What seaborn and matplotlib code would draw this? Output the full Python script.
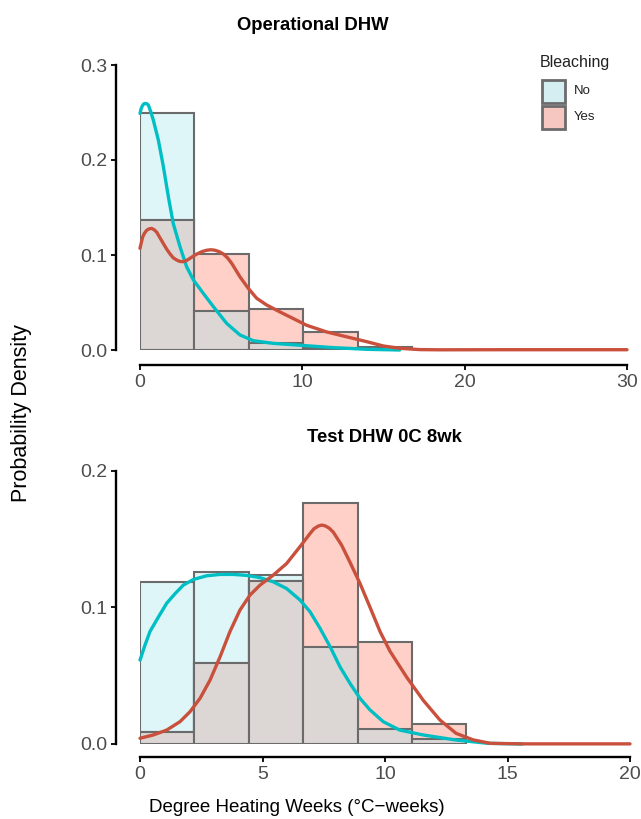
import numpy as np
import matplotlib
matplotlib.use("Agg")
import matplotlib.pyplot as plt
import seaborn as sns
from matplotlib.patches import Rectangle

# ---------------- data ----------------
groups = ["No", "Yes"]

# Panel 1: Operational DHW
top_edges = [0, 3.35, 6.70, 10.05, 13.40, 16.75]
top_no = [0.250, 0.041, 0.007, 0.0025, 0.0]
top_yes = [0.137, 0.101, 0.043, 0.019, 0.0035]

top_no_kde_x = [0, 0.07, 0.144, 0.23, 0.31, 0.41, 0.51, 0.66, 0.82, 1.13, 1.44, 1.75, 2.05,
                2.46, 2.87, 3.29, 3.90, 4.52, 5.34, 6.16, 6.98, 8.2, 9.86, 11.9, 14.0, 16.0]
top_no_kde_y = [0.249, 0.254, 0.257, 0.259, 0.2596, 0.2592, 0.258, 0.251, 0.242, 0.221,
                0.193, 0.161, 0.133, 0.109, 0.0877, 0.0737, 0.0596, 0.0456, 0.028, 0.0158,
                0.0098, 0.007, 0.005, 0.0025, 0.0007, 0.0]
top_yes_kde_x = [0, 0.08, 0.164, 0.28, 0.41, 0.56, 0.72, 0.88, 1.03, 1.2, 1.44, 1.65, 1.85,
                 2.05, 2.26, 2.46, 2.67, 2.87, 3.08, 3.33, 3.59, 3.85, 4.11, 4.37, 4.62,
                 4.88, 5.13, 5.39, 5.65, 6.16, 6.67, 7.19, 7.8, 8.63, 9.45, 10.27, 11.5,
                 12.7, 13.96, 15.0, 16.0, 17.25, 18.5, 22.0, 30.0]
top_yes_kde_y = [0.107, 0.113, 0.119, 0.123, 0.126, 0.1275, 0.128, 0.1265, 0.124, 0.119,
                 0.112, 0.106, 0.1011, 0.097, 0.0947, 0.0932, 0.093, 0.0942, 0.0965, 0.0993,
                 0.1018, 0.1037, 0.105, 0.1055, 0.105, 0.1035, 0.1011, 0.097, 0.0912, 0.077,
                 0.0649, 0.0544, 0.0474, 0.040, 0.033, 0.026, 0.019, 0.014, 0.0088, 0.0042,
                 0.0018, 0.0004, 0.0002, 0.0003, 0.0003]

# Panel 2: Test DHW 0C 8wk
bot_edges = [0, 2.22, 4.44, 6.66, 8.88, 11.10, 13.32]
bot_no = [0.1185, 0.1258, 0.124, 0.0707, 0.0107, 0.0037]
bot_yes = [0.009, 0.059, 0.119, 0.176, 0.0749, 0.0144]

bot_no_kde_x = [0, 0.204, 0.41, 0.75, 1.09, 1.43, 1.77, 2.18, 2.72, 3.27, 3.81, 4.35, 4.9,
                5.44, 5.98, 6.53, 6.94, 7.35, 7.76, 8.16, 8.57, 8.98, 9.39, 9.93, 10.6,
                11.56, 12.9, 14.2, 15.6]
bot_no_kde_y = [0.0614, 0.0724, 0.0824, 0.0929, 0.103, 0.110, 0.1163, 0.1204, 0.1231,
                0.1241, 0.1241, 0.1234, 0.1217, 0.1187, 0.1138, 0.1054, 0.0968, 0.0846,
                0.0712, 0.0566, 0.0444, 0.0334, 0.0249, 0.0163, 0.0102, 0.0066, 0.0029,
                0.0005, 0.0]
bot_yes_kde_x = [0, 0.54, 1.09, 1.63, 2.04, 2.45, 2.86, 3.27, 3.67, 4.08, 4.49, 4.9, 5.44,
                 5.98, 6.53, 6.94, 7.1, 7.28, 7.42, 7.55, 7.72, 7.89, 8.23, 8.57, 8.98,
                 9.39, 9.8, 10.2, 10.88, 11.56, 12.24, 12.9, 13.6, 14.3, 15.6, 20.0]
bot_yes_kde_y = [0.0042, 0.0066, 0.0102, 0.0163, 0.0236, 0.0334, 0.0468, 0.0639, 0.0822,
                 0.098, 0.109, 0.1163, 0.1236, 0.132, 0.1444, 0.154, 0.1575, 0.1595, 0.1602,
                 0.1597, 0.158, 0.155, 0.1455, 0.133, 0.1175, 0.100, 0.0822, 0.068, 0.049,
                 0.032, 0.0176, 0.0078, 0.003, 0.0005, 0.0001, 0.0001]

titles = ["Operational DHW", "Test DHW 0C 8wk"]
top_xticks = [0, 10, 20, 30]
top_yticks = [0.0, 0.1, 0.2, 0.3]
bot_xticks = [0, 5, 10, 15, 20]
bot_yticks = [0.0, 0.1, 0.2]

# ---------------- style ----------------
sns.set_theme(style="ticks")
plt.rcParams["font.family"] = ["Liberation Sans", "DejaVu Sans"]

CYAN_FILL = "#DFF6F9"
RED_FILL = "#FFD0C8"
GRAY_FILL = "#DCD7D4"
EDGE = "#6B6B6B"
CYAN_LINE = "#00BFC4"
RED_LINE = "#C9503C"
TICK_COL = "#4D4D4D"

W, H = 641, 819
fig = plt.figure(figsize=(W / 100, H / 100), dpi=100)


def px_axes(x0, x1, y0, y1):
    return fig.add_axes([x0 / W, 1 - y1 / H, (x1 - x0) / W, (y1 - y0) / H])


def draw_panel(ax, edges, no, yes, nkx, nky, ykx, yky, xticks, yticks, yfmt, boff):
    centers = [(edges[i] + edges[i + 1]) / 2 for i in range(len(no))]
    overlap = np.minimum(no, yes)
    kw = dict(bins=edges, edgecolor=EDGE, linewidth=1.5, alpha=1, ax=ax, stat="count")
    sns.histplot(x=centers, weights=no, color=CYAN_FILL, **kw)
    sns.histplot(x=centers, weights=yes, color=RED_FILL, **kw)
    sns.histplot(x=centers, weights=overlap, color=GRAY_FILL, **kw)
    sns.lineplot(x=nkx, y=nky, color=CYAN_LINE, linewidth=2.4, ax=ax, sort=False,
                 clip_on=False)
    sns.lineplot(x=ykx, y=yky, color=RED_LINE, linewidth=2.4, ax=ax, sort=False,
                 clip_on=False)
    ax.set_xlim(xticks[0], xticks[-1])
    ax.set_ylim(yticks[0], yticks[-1])
    ax.set_xticks(xticks)
    ax.set_yticks(yticks)
    ax.set_yticklabels([yfmt.format(v) for v in yticks])
    ax.set_xlabel("")
    ax.set_ylabel("")
    for s in ["top", "right"]:
        ax.spines[s].set_visible(False)
    ax.spines["left"].set_position(("outward", 24 * 0.72))
    ax.spines["bottom"].set_position(("outward", boff * 0.72))
    for s in ["left", "bottom"]:
        ax.spines[s].set_linewidth(1.7)
        ax.spines[s].set_color("black")
    ax.tick_params(axis="both", length=3.5, width=1.3, color="black",
                   labelcolor=TICK_COL, labelsize=14, pad=3)
    ax.patch.set_alpha(0)


ax1 = px_axes(140, 627, 65, 350)
draw_panel(ax1, top_edges, top_no, top_yes, top_no_kde_x, top_no_kde_y,
           top_yes_kde_x, top_yes_kde_y, top_xticks, top_yticks, "{:.1f}", 15)

ax2 = px_axes(140, 630, 470.7, 744)
draw_panel(ax2, bot_edges, bot_no, bot_yes, bot_no_kde_x, bot_no_kde_y,
           bot_yes_kde_x, bot_yes_kde_y, bot_xticks, bot_yticks, "{:.1f}", 13)

fig.text(313 / W, 1 - 25 / H, titles[0], ha="center", va="center",
         fontsize=13.3, fontweight="bold", color="black")
fig.text(384 / W, 1 - 437 / H, titles[1], ha="center", va="center",
         fontsize=13.3, fontweight="bold", color="black")

fig.text(22 / W, 1 - 413 / H, "Probability Density", rotation=90, ha="center",
         va="center", fontsize=15.5, color="black")
fig.text(297 / W, 1 - 807 / H, "Degree Heating Weeks (°C\u2212weeks)", ha="center",
         va="center", fontsize=13.5, color="black")

# legend (drawn in figure pixel coordinates)
leg_fill = ["#D5EEF1", "#F6C6C0"]
fig.text(540 / W, 1 - 63 / H, "Bleaching", ha="left", va="center",
         fontsize=11.5, color="#222222")
for i, (lab, fc) in enumerate(zip(groups, leg_fill)):
    top = 79 + 26 * i
    fig.patches.append(Rectangle((542 / W, 1 - (top + 24) / H), 23 / W, 23 / H,
                                 transform=fig.transFigure, facecolor=fc,
                                 edgecolor=EDGE, linewidth=2))
    fig.text(574 / W, 1 - (top + 12) / H, lab, ha="left", va="center",
             fontsize=9.5, color="#222222")

fig.savefig("out.png", dpi=100)
